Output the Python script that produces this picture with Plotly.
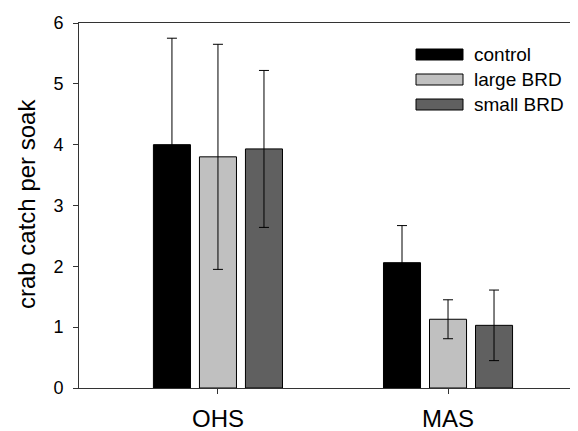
import plotly.graph_objects as go

groups = ["OHS", "MAS"]
series = ["control", "large BRD", "small BRD"]
means = {
    "control": [4.00, 2.06],
    "large BRD": [3.80, 1.13],
    "small BRD": [3.93, 1.03],
}
errors = {
    "control": [1.75, 0.61],
    "large BRD": [1.85, 0.32],
    "small BRD": [1.29, 0.58],
}
colors = {"control": "#000000", "large BRD": "#c0c0c0", "small BRD": "#606060"}
yticks = [0, 1, 2, 3, 4, 5, 6]

# page has an 8px body margin; figure placed at (8, 8)
OFF = 8
W, H = 578 - OFF, 431 - OFF
L, R, T, B = 79 - OFF, 0, 23 - OFF, 43
pw, ph = W - L - R, H - T - B

def px2paper_x(px):
    return (px - OFF - L) / pw

def px2paper_y(py):
    return (H - B - (py - OFF)) / ph

font = "Liberation Sans, Arial, sans-serif"
xpos = list(range(len(groups)))

fig = go.Figure()
for s in series:
    fig.add_trace(go.Bar(
        x=xpos, y=means[s], name=s,
        marker=dict(color=colors[s], line=dict(color="#000000", width=1)),
        error_y=dict(type="data", array=errors[s], visible=True,
                     color="#000000", thickness=1, width=5),
        showlegend=False,
    ))

# legend drawn manually (wide swatches)
for i, s in enumerate(series):
    cy = 54.5 + 25 * i
    fig.add_shape(type="rect", xref="paper", yref="paper",
                  x0=px2paper_x(416), x1=px2paper_x(463),
                  y0=px2paper_y(cy - 5.5), y1=px2paper_y(cy + 5.5),
                  fillcolor=colors[s], line=dict(color="#000000", width=1))
    fig.add_annotation(xref="paper", yref="paper", x=px2paper_x(472),
                       y=px2paper_y(cy), text=s, showarrow=False,
                       xanchor="left", yanchor="middle",
                       font=dict(family=font, size=19, color="#000000"))

fig.add_annotation(xref="paper", yref="paper", x=px2paper_x(26),
                   y=px2paper_y(204), text="crab catch per soak",
                   textangle=-90, showarrow=False,
                   xanchor="center", yanchor="middle",
                   font=dict(family=font, size=24, color="#000000"))

fig.update_layout(
    width=W, height=H,
    margin=dict(l=L, r=R, t=T, b=B, pad=0),
    paper_bgcolor="white", plot_bgcolor="white",
    barmode="group", bargap=0.4, bargroupgap=0.195,
    font=dict(family=font, color="#000000"),
)
fig.update_xaxes(
    range=[-0.604, 1.565], tickvals=xpos, ticktext=groups,
    ticks="outside", ticklen=5, tickcolor="#333333",
    showline=True, linecolor="#333333", linewidth=1, mirror=True,
    showgrid=False, zeroline=False, ticklabelstandoff=4,
    tickfont=dict(family=font, size=24, color="#000000"),
)
fig.update_yaxes(
    range=[0, 6], tickvals=yticks,
    ticks="outside", ticklen=5, tickcolor="#333333",
    showline=True, linecolor="#333333", linewidth=1,
    showgrid=False, zeroline=False, ticklabelstandoff=6,
    tickfont=dict(family=font, size=18, color="#000000"),
)

fig.write_html("out.html")
